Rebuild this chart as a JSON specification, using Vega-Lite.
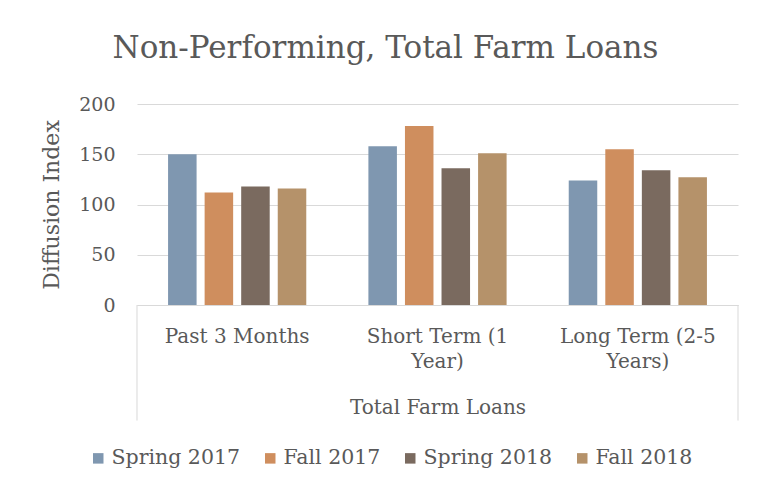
{
  "$schema": "https://vega.github.io/schema/vega-lite/v6.json",
  "width": 601,
  "height": 201,
  "autosize": "none",
  "padding": {"left": 137, "top": 104, "right": 21, "bottom": 184},
  "background": "white",
  "config": {"font": "DejaVu Serif", "view": {"stroke": null}},
  "title": {"text": "Non-Performing, Total Farm Loans", "fontSize": 31, "fontWeight": "normal", "color": "#595959", "anchor": "middle", "dx": -52, "offset": 30},
  "data": {"values": [
    {"category": "Past 3 Months", "series": "Spring 2017", "value": 150},
    {"category": "Past 3 Months", "series": "Fall 2017", "value": 112},
    {"category": "Past 3 Months", "series": "Spring 2018", "value": 118},
    {"category": "Past 3 Months", "series": "Fall 2018", "value": 116},
    {"category": "Short Term (1 Year)", "series": "Spring 2017", "value": 158},
    {"category": "Short Term (1 Year)", "series": "Fall 2017", "value": 178},
    {"category": "Short Term (1 Year)", "series": "Spring 2018", "value": 136},
    {"category": "Short Term (1 Year)", "series": "Fall 2018", "value": 151},
    {"category": "Long Term (2-5 Years)", "series": "Spring 2017", "value": 124},
    {"category": "Long Term (2-5 Years)", "series": "Fall 2017", "value": 155},
    {"category": "Long Term (2-5 Years)", "series": "Spring 2018", "value": 134},
    {"category": "Long Term (2-5 Years)", "series": "Fall 2018", "value": 127}
  ]},
  "layer": [
    {
      "mark": {"type": "bar"},
      "encoding": {
        "x": {
          "field": "category", "type": "nominal",
          "sort": ["Past 3 Months", "Short Term (1 Year)", "Long Term (2-5 Years)"],
          "scale": {"domain": ["Past 3 Months", "Short Term (1 Year)", "Long Term (2-5 Years)"], "paddingInner": 0.27, "paddingOuter": 0.135},
          "axis": {
            "labelAngle": 0,
            "labelExpr": "datum.value == 'Short Term (1 Year)' ? ['Short Term (1', 'Year)'] : datum.value == 'Long Term (2-5 Years)' ? ['Long Term (2-5', 'Years)'] : datum.value",
            "labelFontSize": 20, "labelColor": "#595959", "labelLineHeight": 25, "labelPadding": 21,
            "ticks": false, "domainColor": "#D9D9D9", "domainWidth": 1,
            "title": "Total Farm Loans", "titleFontSize": 20, "titleFontWeight": "normal", "titleColor": "#595959", "titlePadding": 26
          }
        },
        "xOffset": {
          "field": "series", "type": "nominal",
          "sort": ["Spring 2017", "Fall 2017", "Spring 2018", "Fall 2018"],
          "scale": {"paddingInner": 0.22, "paddingOuter": 0.11}
        },
        "y": {
          "field": "value", "type": "quantitative",
          "scale": {"domain": [0, 200]},
          "axis": {
            "values": [0, 50, 100, 150, 200],
            "labelFontSize": 19, "labelColor": "#595959", "labelPadding": 22,
            "domain": false, "ticks": false, "gridColor": "#D9D9D9", "gridWidth": 1,
            "title": "Diffusion Index", "titleFontSize": 22, "titleFontWeight": "normal", "titleColor": "#595959", "titlePadding": 15
          }
        },
        "color": {
          "field": "series", "type": "nominal",
          "sort": ["Spring 2017", "Fall 2017", "Spring 2018", "Fall 2018"],
          "scale": {"domain": ["Spring 2017", "Fall 2017", "Spring 2018", "Fall 2018"], "range": ["#7F97B0", "#CF8E5E", "#7A6A5F", "#B5926A"]},
          "legend": {
            "orient": "none", "legendX": -49, "legendY": 344, "direction": "horizontal", "title": null,
            "symbolType": "square", "symbolSize": 110, "symbolStrokeWidth": 0,
            "labelFontSize": 20.5, "labelColor": "#595959", "columnPadding": 19, "labelOffset": 3
          }
        }
      }
    },
    {
      "data": {"values": [{"category": "Past 3 Months"}]},
      "mark": {"type": "rule", "color": "#D9D9D9", "strokeWidth": 1},
      "encoding": {
        "x": {"field": "category", "type": "nominal", "sort": ["Past 3 Months", "Short Term (1 Year)", "Long Term (2-5 Years)"], "bandPosition": -0.185},
        "y": {"datum": 0},
        "y2": {"datum": -115}
      }
    },
    {
      "data": {"values": [{"category": "Long Term (2-5 Years)"}]},
      "mark": {"type": "rule", "color": "#D9D9D9", "strokeWidth": 1},
      "encoding": {
        "x": {"field": "category", "type": "nominal", "sort": ["Past 3 Months", "Short Term (1 Year)", "Long Term (2-5 Years)"], "bandPosition": 1.185},
        "y": {"datum": 0},
        "y2": {"datum": -115}
      }
    }
  ]
}
